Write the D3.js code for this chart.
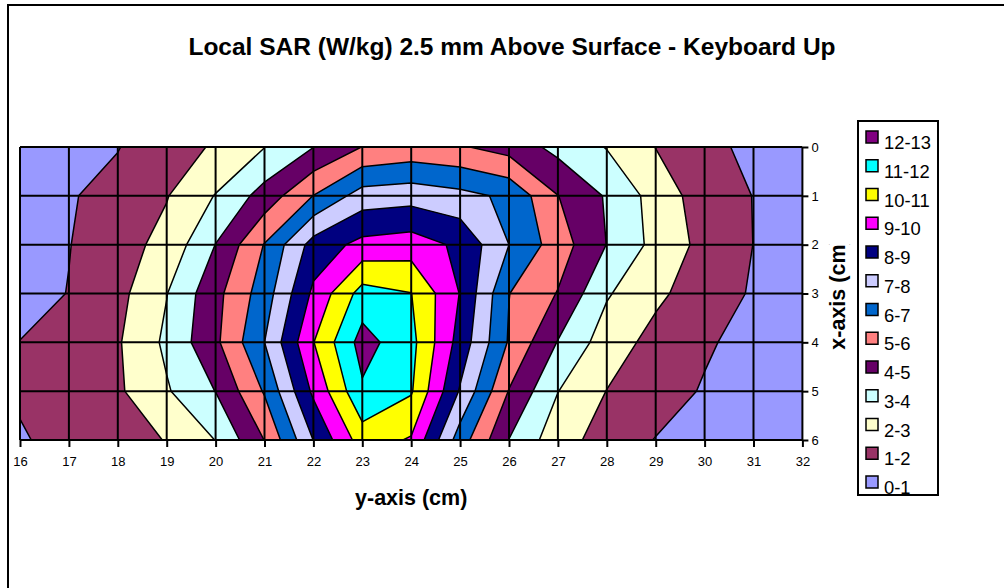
<!DOCTYPE html>
<html>
<head>
<meta charset="utf-8">
<script src="https://cdn.jsdelivr.net/npm/d3@7"></script>
<style>
	body { margin: 0; background: #fff; }
	svg { display: block; font-family: "Liberation Sans", Arial, sans-serif; }
</style>
</head>
<body>
<svg id="chart" width="1004" height="588"></svg>
<script>
// axis categories
const yAxisCm = [16, 17, 18, 19, 20, 21, 22, 23, 24, 25, 26, 27, 28, 29, 30, 31, 32];
const xAxisCm = [0, 1, 2, 3, 4, 5, 6];

// SAR (W/kg), one row per x-axis position
const sarX0 = [0.5, 0.6, 0.95, 1.8, 2.05, 2.98, 3.98, 5.02, 5.3, 5.1, 4.6, 3.7, 2.95, 1.98, 1.4, 0.65, 0.4];
const sarX1 = [0.5, 0.9, 1.4, 1.95, 3.05, 4.4, 6.02, 7.45, 7.6, 7.3, 6.8, 5.02, 3.9, 2.6, 1.5, 0.98, 0.5];
const sarX2 = [0.5, 0.97, 1.6, 2.3, 4.02, 6.05, 8.4, 9.3, 9.5, 8.8, 7.0, 5.5, 3.98, 2.7, 1.7, 0.99, 0.5];
const sarX3 = [0.6, 1.03, 1.7, 2.97, 4.7, 6.5, 9.2, 11.4, 11.02, 8.96, 6.02, 4.95, 3.1, 2.2, 1.5, 0.9, 0.5];
const sarX4 = [1.02, 1.5, 1.9, 3.2, 4.8, 7.0, 9.97, 12.4, 11.3, 8.6, 5.9, 3.95, 2.5, 1.68, 1.15, 0.6, 0.4];
const sarX5 = [1.2, 1.5, 1.85, 2.9, 4.02, 6.1, 9.2, 11.85, 11.1, 7.9, 4.95, 3.02, 1.98, 1.5, 0.9, 0.5, 0.3];
const sarX6 = [0.85, 1.5, 1.8, 2.02, 3.02, 5.02, 8.02, 10.5, 9.9, 6.5, 3.98, 2.4, 1.6, 0.96, 0.5, 0.4, 0.3];

// legend bands
const bandLabels = ["0-1", "1-2", "2-3", "3-4", "4-5", "5-6", "6-7", "7-8", "8-9", "9-10", "10-11", "11-12", "12-13"];
const bandLower = [0, 1, 2, 3, 4, 5, 6, 7, 8, 9, 10, 11, 12];

// excel palette
const bandColors = ["#9999FF", "#993366", "#FFFFCC", "#CCFFFF", "#660066", "#FF8080",
	"#0066CC", "#CCCCFF", "#000080", "#FF00FF", "#FFFF00", "#00FFFF", "#800080"];

const rows = [sarX0, sarX1, sarX2, sarX3, sarX4, sarX5, sarX6];
const nx = yAxisCm.length, ny = xAxisCm.length;
const values = [].concat(...rows);

var svg = d3.select("#chart");

// outer chart frame (runs off right and bottom edge like the original)
svg.append("rect")
	.attr("x", 8).attr("y", 5)
	.attr("width", 1010).attr("height", 600)
	.attr("fill", "none").attr("stroke", "#000").attr("stroke-width", 2);

var x = d3.scaleLinear().domain([16, 32]).range([20, 802.4]);
var y = d3.scaleLinear().domain([0, 6]).range([147, 440]);

// grid coords from d3.contours have values at i + 0.5
var proj = d3.geoTransform({
	point: function(px, py) {
		this.stream.point(x(yAxisCm[0] + px - 0.5), y(xAxisCm[0] + py - 0.5));
	}
});
var path = d3.geoPath(proj);

svg.append("clipPath").attr("id", "plotClip")
	.append("rect")
	.attr("x", x(16)).attr("y", y(0))
	.attr("width", x(32) - x(16)).attr("height", y(6) - y(0));

var plot = svg.append("g").attr("clip-path", "url(#plotClip)");

// lowest band fills the plot
plot.append("rect")
	.attr("x", x(16)).attr("y", y(0))
	.attr("width", x(32) - x(16)).attr("height", y(6) - y(0))
	.attr("fill", bandColors[0]);

var contours = d3.contours()
	.size([nx, ny])
	.thresholds(bandLower.slice(1))(values);

plot.selectAll("path.band")
	.data(contours)
	.join("path")
	.attr("class", "band")
	.attr("d", path)
	.attr("fill", d => bandColors[bandLower.indexOf(d.value)])
	.attr("stroke", "#000")
	.attr("stroke-width", 1.5)
	.attr("stroke-linejoin", "round");

// gridlines
var grid = svg.append("g").attr("stroke", "#000").attr("stroke-width", 2);
grid.selectAll("line.v")
	.data(yAxisCm)
	.join("line")
	.attr("class", "v")
	.attr("x1", d => x(d)).attr("x2", d => x(d))
	.attr("y1", y(0)).attr("y2", y(6));
grid.selectAll("line.h")
	.data(xAxisCm)
	.join("line")
	.attr("class", "h")
	.attr("x1", x(16)).attr("x2", x(32))
	.attr("y1", d => y(d)).attr("y2", d => y(d));

// axes
var axB = svg.append("g")
	.attr("transform", "translate(0," + y(6) + ")")
	.call(d3.axisBottom(x).tickValues(yAxisCm).tickFormat(d3.format("d")).tickSize(7).tickPadding(10));
var axR = svg.append("g")
	.attr("transform", "translate(" + x(32) + ",0)")
	.call(d3.axisRight(y).tickValues(xAxisCm).tickFormat(d3.format("d")).tickSize(6).tickPadding(3));
[axB, axR].forEach(function(ax) {
	ax.select(".domain").remove();
	ax.selectAll(".tick line").attr("stroke", "#000").attr("stroke-width", 2);
	ax.selectAll(".tick text")
		.attr("fill", "#000")
		.style("font-family", "'Liberation Sans', Arial, sans-serif")
		.style("font-size", "13px");
});

// title
svg.append("text")
	.attr("x", 512).attr("y", 55)
	.attr("text-anchor", "middle")
	.style("font-size", "24.5px").style("font-weight", "bold")
	.text("Local SAR (W/kg) 2.5 mm Above Surface - Keyboard Up");

svg.append("text")
	.attr("x", (x(16) + x(32)) / 2).attr("y", 505)
	.attr("text-anchor", "middle")
	.style("font-size", "21.5px").style("font-weight", "bold")
	.text("y-axis (cm)");

// right title is cut off at the top in the original
svg.append("clipPath").attr("id", "xTitleClip")
	.append("rect").attr("x", 820).attr("y", 244).attr("width", 40).attr("height", 140);
svg.append("g")
	.attr("clip-path", "url(#xTitleClip)")
	.append("text")
	.attr("transform", "translate(845," + (y(0) + y(6)) / 2 + ") rotate(-90)")
	.attr("text-anchor", "middle")
	.style("font-size", "21.5px").style("font-weight", "bold")
	.text("x-axis (cm)");

// legend
var legend = svg.append("g");
legend.append("rect")
	.attr("x", 858).attr("y", 121)
	.attr("width", 80).attr("height", 374)
	.attr("fill", "#fff").attr("stroke", "#000").attr("stroke-width", 2);

var legendItems = bandLabels.map((l, i) => ({ label: l, color: bandColors[i] })).reverse();
var item = legend.selectAll("g.item")
	.data(legendItems)
	.join("g")
	.attr("class", "item")
	.attr("transform", (d, i) => "translate(0," + (137 + i * 28.75) + ")");
item.append("rect")
	.attr("x", 866).attr("y", -6)
	.attr("width", 12).attr("height", 12)
	.attr("fill", d => d.color)
	.attr("stroke", "#000").attr("stroke-width", 1.5);
item.append("text")
	.attr("x", 884).attr("y", 12)
	.style("font-size", "18.4px")
	.text(d => d.label);
</script>
</body>
</html>
